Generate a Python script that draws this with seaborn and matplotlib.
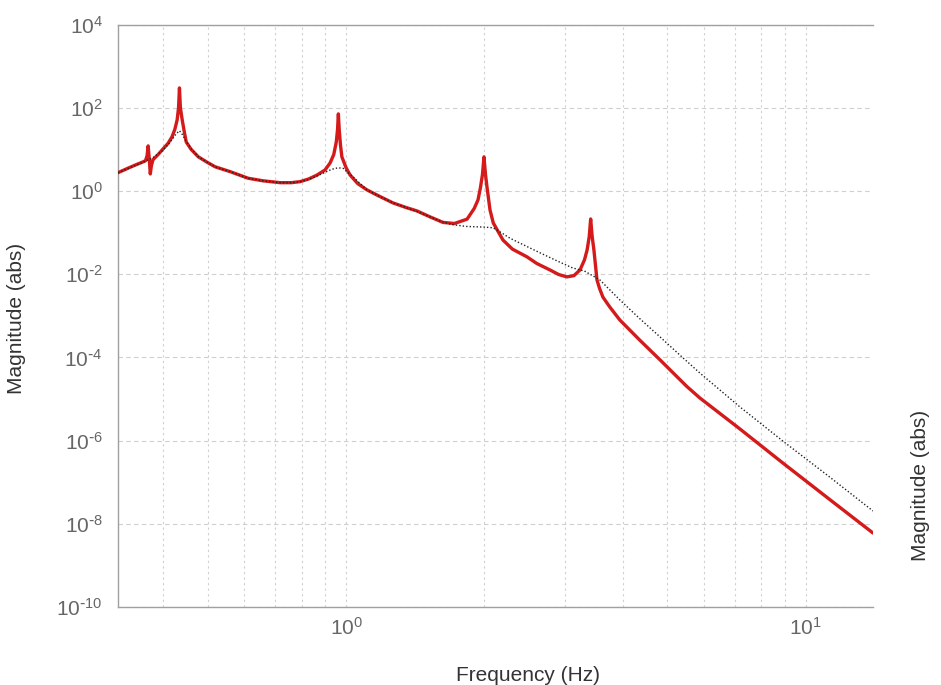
import numpy as np
import pandas as pd
import matplotlib
matplotlib.use("Agg")
import matplotlib.pyplot as plt
import matplotlib.ticker as mticker
import seaborn as sns

# values (Hz, abs magnitude)
red_freq = [0.319, 0.335, 0.348, 0.360, 0.366, 0.369, 0.371, 0.373, 0.375, 0.377,
            0.380, 0.390, 0.398, 0.410, 0.418, 0.424, 0.429, 0.432, 0.434, 0.436,
            0.440, 0.445, 0.449, 0.460, 0.477, 0.500, 0.519, 0.560, 0.612, 0.660,
            0.719, 0.760, 0.794, 0.830, 0.865, 0.900, 0.923, 0.940, 0.952, 0.958,
            0.962, 0.966, 0.972, 0.979, 1.000, 1.020, 1.060, 1.110, 1.180, 1.265,
            1.350, 1.427, 1.520, 1.625, 1.720, 1.833, 1.900, 1.936, 1.960, 1.980,
            1.995, 2.010, 2.026, 2.056, 2.090, 2.194, 2.300, 2.475, 2.600, 2.777,
            2.900, 3.022, 3.130, 3.227, 3.300, 3.344, 3.380, 3.404, 3.430, 3.460,
            3.490, 3.513, 3.560, 3.620, 3.750, 3.940, 4.360, 4.820, 5.510, 5.880,
            7.190, 8.910, 11.27, 14.00]
red_mag = [2.75, 3.5, 4.2, 4.9, 5.3, 7.0, 12.1, 6.0, 2.56, 4.0,
           5.6, 7.5, 9.7, 14, 19.9, 30, 51, 100, 299, 100,
           51, 25, 15, 10, 6.6, 4.8, 3.8, 2.9, 2.02, 1.75,
           1.58, 1.58, 1.67, 1.95, 2.42, 3.2, 4.71, 7.5, 15, 30,
           71, 30, 13, 6.6, 3.6, 2.42, 1.5, 1.06, 0.75, 0.515,
           0.40, 0.33, 0.24, 0.175, 0.165, 0.21, 0.38, 0.608, 1.2, 2.5,
           6.6, 2.5, 1.2, 0.35, 0.17, 0.066, 0.04, 0.026, 0.018, 0.0126,
           0.0098, 0.0086, 0.0092, 0.0126, 0.022, 0.038, 0.08, 0.212, 0.08, 0.038,
           0.015, 0.0073, 0.0045, 0.0028, 0.0016, 7.9e-4, 2.55e-4, 8.67e-5, 2.0e-5, 1.06e-5,
           1.9e-6, 2.9e-7, 3.84e-8, 6.0e-9]

dot_freq = [0.319, 0.340, 0.360, 0.380, 0.398, 0.410, 0.418, 0.426, 0.434, 0.440,
            0.449, 0.460, 0.477, 0.500, 0.519, 0.560, 0.612, 0.660, 0.719, 0.760,
            0.794, 0.830, 0.865, 0.900, 0.930, 0.960, 0.985, 1.000, 1.030, 1.070,
            1.110, 1.180, 1.265, 1.350, 1.427, 1.520, 1.600, 1.700, 1.830, 2.000,
            2.088, 2.180, 2.273, 2.475, 2.700, 2.900, 3.110, 3.300, 3.565, 3.940,
            4.360, 4.820, 5.320, 5.880, 7.190, 8.910, 11.27, 14.00]
dot_mag = [2.75, 3.7, 4.8, 6.3, 9.2, 13, 17, 23, 28, 23,
           15.5, 10.5, 6.6, 4.8, 3.8, 2.9, 2.02, 1.75, 1.58, 1.58,
           1.67, 1.9, 2.3, 2.8, 3.3, 3.6, 3.5, 3.0, 2.3, 1.55,
           1.06, 0.75, 0.515, 0.40, 0.32, 0.24, 0.19, 0.155, 0.14, 0.135,
           0.13, 0.098, 0.073, 0.046, 0.029, 0.02, 0.0141, 0.0119, 7.26e-3, 2.40e-3,
           8.38e-4, 3.09e-4, 1.14e-4, 4.22e-5, 6.43e-6, 9.77e-7, 1.33e-7, 2.03e-8]

y_ticks = [1e-10, 1e-8, 1e-6, 1e-4, 1e-2, 1e0, 1e2, 1e4]

red = pd.DataFrame({"freq": red_freq, "mag": red_mag})
dot = pd.DataFrame({"freq": dot_freq, "mag": dot_mag})

sns.set_style("white")
plt.rcParams["font.family"] = ["Liberation Sans", "DejaVu Sans"]
plt.rcParams["axes.unicode_minus"] = False


def pow10(v, pos):
    e = int(round(np.log10(v)))
    if e < 0:
        return r"$\mathdefault{10^{\text{-}%d}}$" % (-e)
    return r"$\mathdefault{10^{%d}}$" % e


fig = plt.figure(figsize=(9.41, 6.85), dpi=100)
ax = fig.add_axes([0.1254, 0.1139, 0.8023, 0.8503])

sns.lineplot(data=red, x="freq", y="mag", color="#d41a1a", linewidth=2.4,
             estimator=None, sort=False, ax=ax, zorder=3)
sns.lineplot(data=dot, x="freq", y="mag", color="#222222", linewidth=1.0,
             linestyle=(0, (1, 1.5)), estimator=None, sort=False, ax=ax, zorder=4)

ax.set_xscale("log")
ax.set_yscale("log")
ax.set_xlim(0.319, 14.0)
ax.set_ylim(1e-10, 1e4)
ax.set_yticks(y_ticks)
ax.yaxis.set_major_formatter(mticker.FuncFormatter(pow10))
ax.yaxis.set_minor_locator(mticker.NullLocator())
ax.xaxis.set_major_formatter(mticker.FuncFormatter(pow10))
ax.xaxis.set_minor_locator(mticker.LogLocator(base=10, subs=np.arange(2, 10)))
ax.xaxis.set_minor_formatter(mticker.NullFormatter())

ax.grid(True, axis="y", which="major", color="#cfcfcf", linestyle=(0, (4, 3)), linewidth=0.8)
ax.grid(True, axis="x", which="both", color="#cfcfcf", linestyle=(0, (2, 3)), linewidth=0.8)

for side in ["left", "bottom", "top"]:
    ax.spines[side].set_color("#a0a0a0")
    ax.spines[side].set_linewidth(1.0)
ax.spines["right"].set_visible(False)

ax.tick_params(axis="both", which="both", direction="in", colors="#999999",
               labelcolor="#666666", labelsize=15)
ax.tick_params(axis="y", which="major", length=4, pad=11, right=False)
ax.tick_params(axis="x", which="major", length=4, pad=7, top=False)
ax.tick_params(axis="x", which="minor", length=3, top=False)

ax.set_ylabel("")
ax.set_xlabel("Frequency (Hz)", fontsize=15, color="#333333")
ax.xaxis.set_label_coords(0.543, -0.101)

# both magnitude labels as figure text
fig.text(17 / 941, 1 - 318 / 685, "Magnitude (abs)", rotation=90,
         ha="center", va="center", fontsize=15, color="#333333")
fig.text(921 / 941, 1 - 485 / 685, "Magnitude (abs)", rotation=90,
         ha="center", va="center", fontsize=15, color="#333333")

fig.savefig("out.png", dpi=100)
